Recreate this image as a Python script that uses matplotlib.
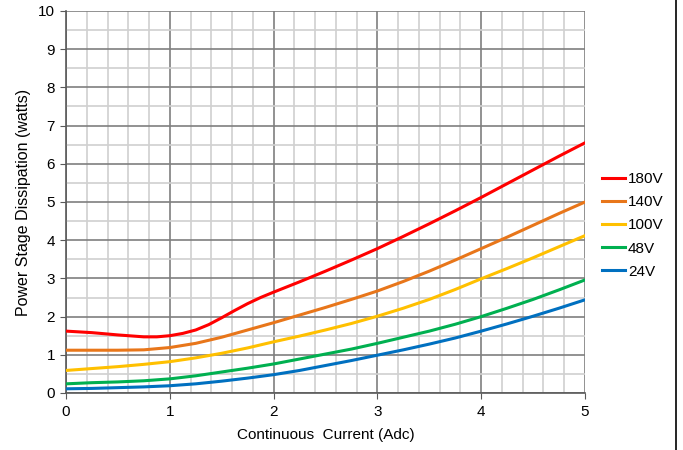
import matplotlib
matplotlib.use("Agg")
import matplotlib.pyplot as plt
from matplotlib.lines import Line2D
from matplotlib.ticker import MultipleLocator

plt.rcParams['font.family'] = ['Liberation Sans', 'DejaVu Sans']

current = [0, 0.25, 0.5, 0.75, 1.0, 1.25, 1.5, 1.75, 2.0, 2.25, 2.5, 2.75,
           3.0, 3.25, 3.5, 3.75, 4.0, 4.25, 4.5, 4.75, 5.0]
current180 = [0, 0.25, 0.5, 0.75, 0.875, 1.0, 1.125, 1.25, 1.375, 1.5, 1.625,
              1.75, 1.875, 2.0, 2.25, 2.5, 2.75, 3.0, 3.25, 3.5, 3.75, 4.0,
              4.25, 4.5, 4.75, 5.0]
p180 = [1.62, 1.58, 1.52, 1.47, 1.47, 1.50, 1.56, 1.65, 1.79, 1.97, 2.16,
        2.34, 2.50, 2.64, 2.91, 3.19, 3.48, 3.78, 4.10, 4.43, 4.77, 5.12,
        5.48, 5.84, 6.20, 6.55]
p140 = [1.12, 1.12, 1.12, 1.13, 1.19, 1.30, 1.46, 1.65, 1.84, 2.04, 2.24, 2.45,
        2.67, 2.92, 3.19, 3.48, 3.78, 4.08, 4.39, 4.70, 5.00]
p100 = [0.59, 0.64, 0.69, 0.75, 0.82, 0.92, 1.04, 1.18, 1.34, 1.49, 1.65, 1.82,
        2.01, 2.22, 2.45, 2.71, 2.99, 3.26, 3.54, 3.83, 4.12]
p48 = [0.24, 0.27, 0.29, 0.32, 0.37, 0.45, 0.55, 0.65, 0.76, 0.89, 1.02, 1.15,
       1.30, 1.46, 1.62, 1.80, 2.00, 2.22, 2.45, 2.70, 2.96]
p24 = [0.11, 0.12, 0.14, 0.16, 0.19, 0.24, 0.31, 0.39, 0.48, 0.59, 0.72, 0.85,
       0.99, 1.13, 1.28, 1.44, 1.62, 1.81, 2.01, 2.22, 2.44]

series = [("180V", current180, p180, "#ff0000"),
          ("140V", current, p140, "#e8761a"),
          ("100V", current, p100, "#ffc000"),
          ("48V", current, p48, "#00b050"),
          ("24V", current, p24, "#0070c0")]

fig = plt.figure(figsize=(6.83, 4.5), dpi=100)
ax = fig.add_axes([66/683, 1-393/450, (585-66)/683, (393-11)/450])

ax.set_xlim(0, 5)
ax.set_ylim(0, 10)
ax.xaxis.set_major_locator(MultipleLocator(1))
ax.xaxis.set_minor_locator(MultipleLocator(0.2))
ax.yaxis.set_major_locator(MultipleLocator(1))
ax.yaxis.set_minor_locator(MultipleLocator(0.5))
ax.grid(which='minor', color='#d0d0d0', linewidth=1.2, zorder=0)
ax.grid(which='major', color='#7f7f7f', linewidth=1.2, zorder=1)
ax.set_axisbelow(True)
for s in ['top', 'right']:
    ax.spines[s].set_visible(False)
for s in ['left', 'bottom']:
    ax.spines[s].set_color('#595959')
    ax.spines[s].set_linewidth(1.2)
ax.tick_params(which='major', direction='out', length=4, color='#595959',
               labelsize=11, labelcolor='black')
ax.tick_params(which='minor', length=0)
ax.tick_params(axis='y', length=4, pad=4)
ax.tick_params(axis='x', pad=5)

handles = []
for label, xs, vals, col in series:
    ax.plot(xs, vals, color=col, linewidth=2.2, zorder=3,
            solid_joinstyle='round', solid_capstyle='round')
    handles.append(Line2D([], [], color=col, linewidth=2.2, label=label))

ax.set_xlabel("Continuous  Current (Adc)", fontsize=11, labelpad=6)
ax.set_ylabel("Power Stage Dissipation (watts)", fontsize=11.5, labelpad=5)

leg = fig.legend(handles=handles, loc='upper left',
                 bbox_to_anchor=(596/683, 1-166/450), frameon=False,
                 fontsize=11, handlelength=1.5, handletextpad=0.2,
                 labelspacing=0.6, borderaxespad=0)

fig.add_artist(Line2D([676/683, 676/683], [0, 1], color='black',
                      linewidth=1.2, transform=fig.transFigure))

fig.savefig("out.png", dpi=100)
